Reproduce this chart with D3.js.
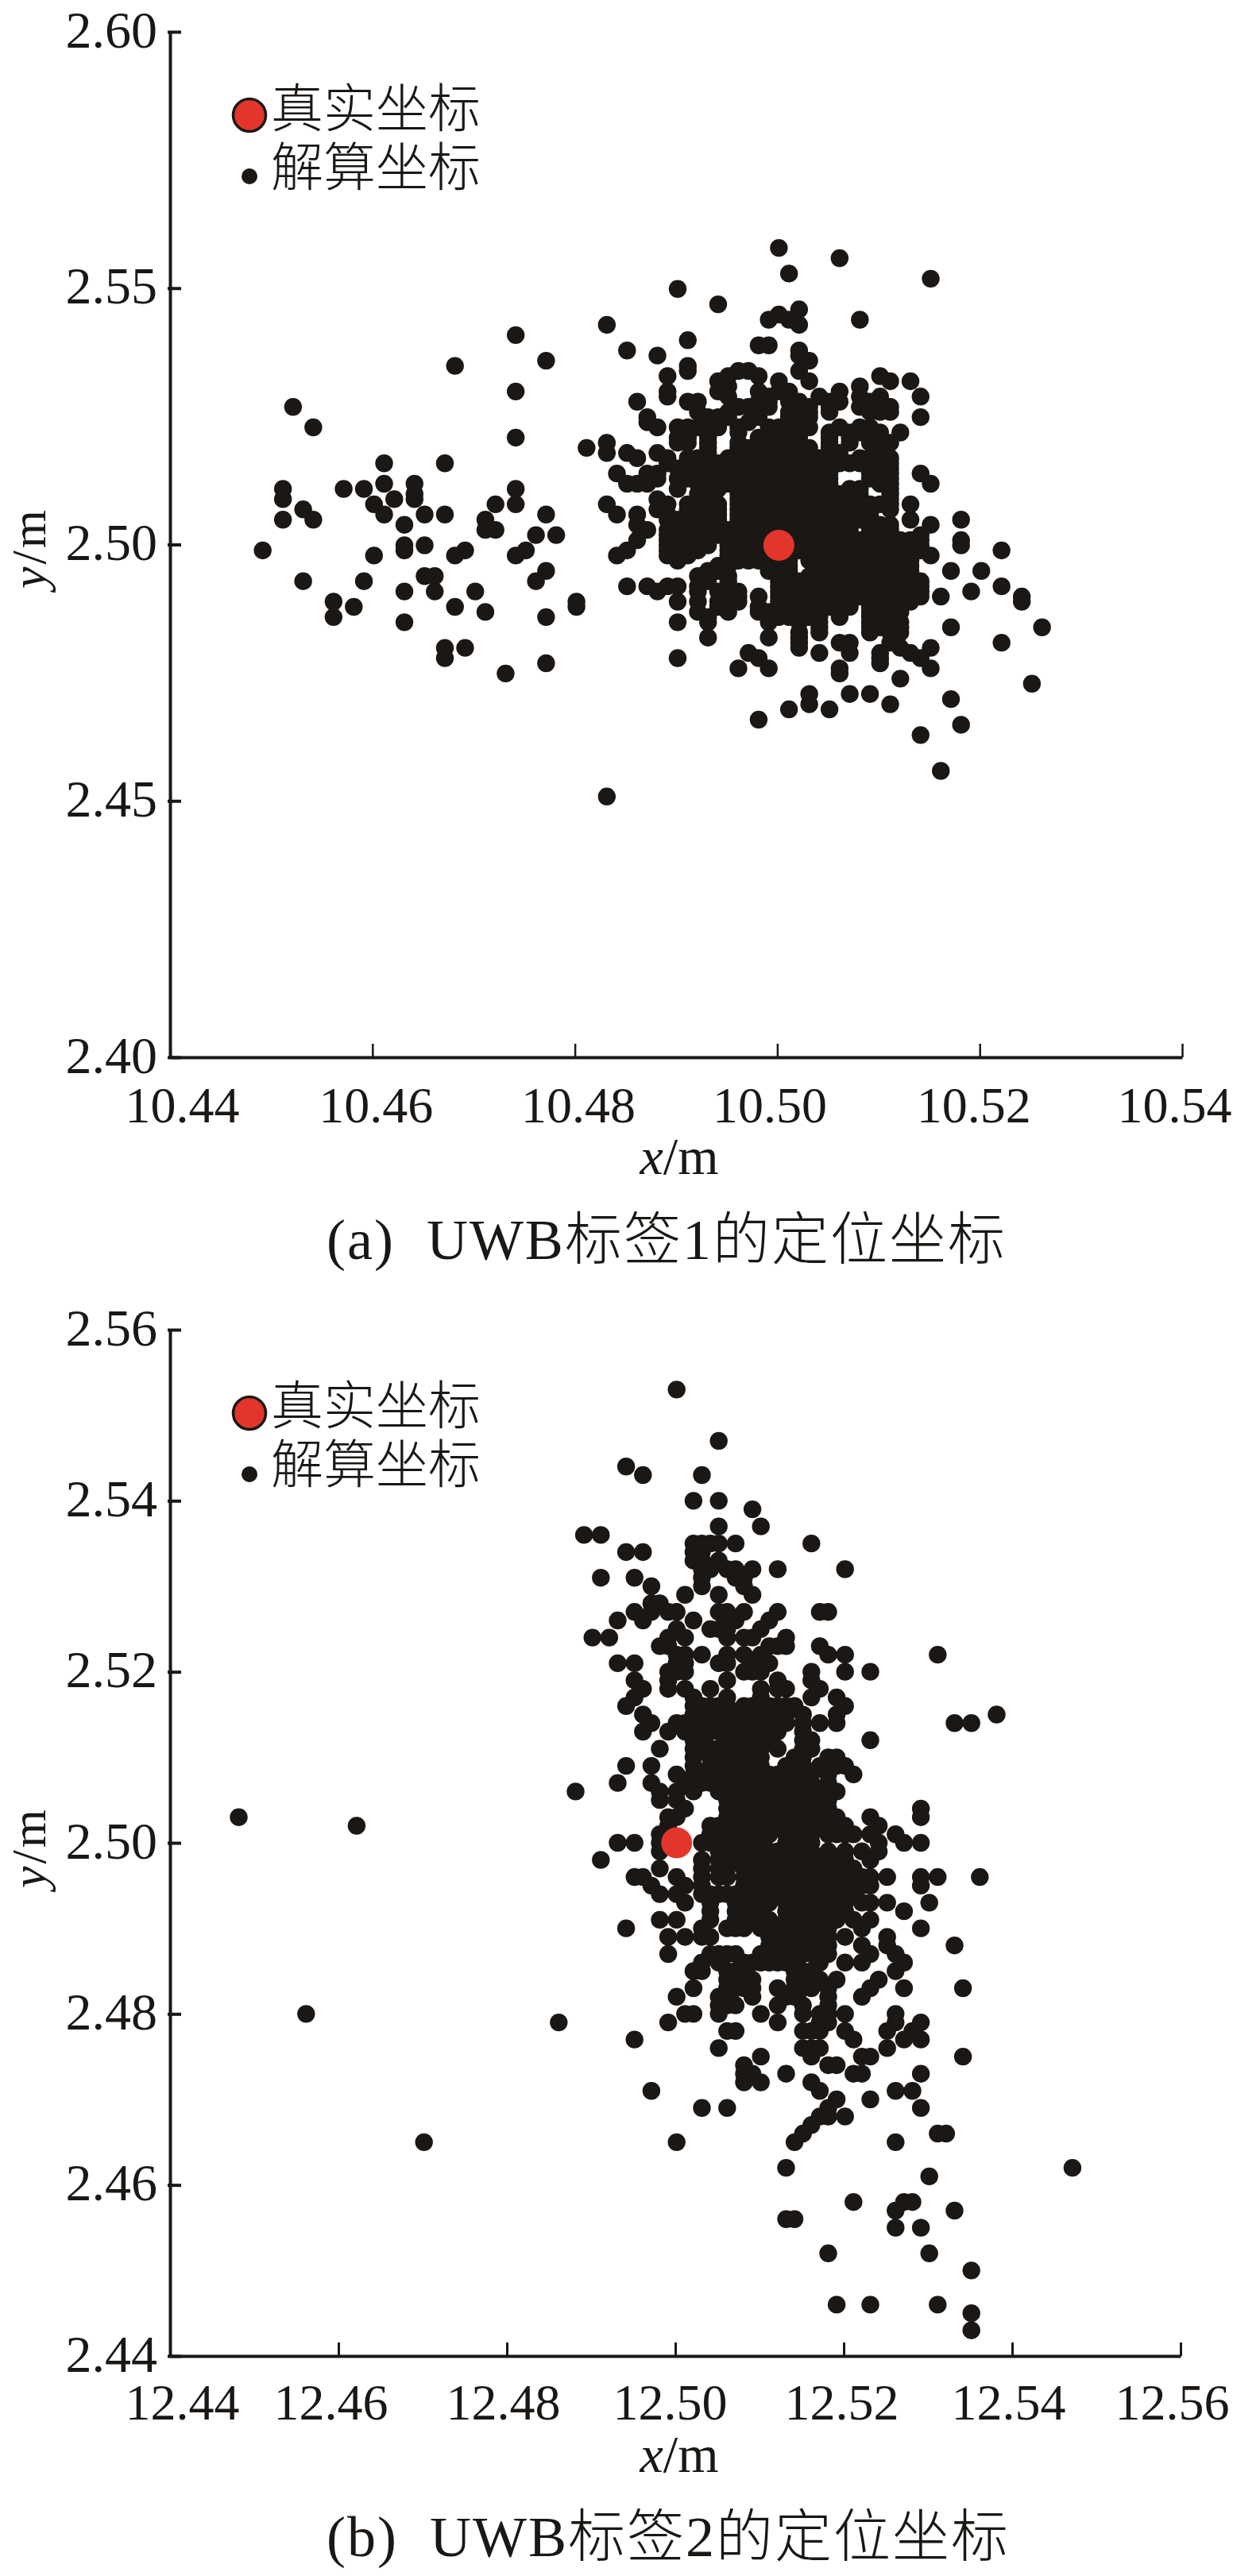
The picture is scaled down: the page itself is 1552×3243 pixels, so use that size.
<!DOCTYPE html>
<html><head><meta charset="utf-8">
<script src="https://cdn.jsdelivr.net/npm/d3@7"></script>
<style>
html,body{margin:0;padding:0;background:#fff}
svg{display:block}
text{fill:#1a1714;font-family:"Liberation Serif","Noto Sans CJK SC",serif}
</style></head><body>
<svg id="c" width="1552" height="3243"></svg>
<script>
// Solved coordinates: rows of [y error in mm, [x errors in mm]] around the true tag position
const tag1True = [10.50, 2.50];
const tag1Rows = [
[58,[0]],[56,[6]],[53,[1]],[52,[15]],[50,[-10]],[47,[-6]],[46,[2]],[45,[0]],[44,[-1,1,8]],[43,[-17,2]],[41,[-26]],[40,[-9]],[39,[-2,-1]],[38,[-15,2]],[37,[-12,2]],[36,[3,-23]],[35,[-9,-32]],[34,[-9,-4,-3,2]],[33,[-11,-5,-2,10]],[32,[-6,0,3,11,13]],[31,[-5,8]],[30,[-26,-11,-6,-2,0,1,6]],[29,[-11,-5,-1,1,4,8,10,14]],
[28,[-14,-9,-8,-2,-1,1,2,5,6,9,10]],[27,[-48,-4,-3,-1,2,3,5,8,11]],[26,[-8,-5,-2,1,3,5,9,10,11]],[25,[-13,-7,-6,-5,-2,1,3,14]],[24,[-13,-3,2]],[23,[-46,-12,-10,-9,-8,-7,-6,-4,-1,0,1,3,6,8,9]],
[22,[-7,-4,-1,0,1,2,5,7,8,10,12]],[21,[-26,-10,-9,-7,-2,-1,0,1,2,5,7,10]],[20,[-17,-10,-9,-7,-4,-2,-1,0,1,2,5,7,9,11]],[19,[-19,-7,-4,-3,1,2,3,5]],[18,[-17,-15,-12,-7,-4,-3,-2,-1,0,1,2,3,5,6,10]],
[17,[-14,-11,-9,-8,-7,-5,-4,-3,-1,1,2,4,5,6,8,9,10,11]],[16,[-39,-33,-11,-8,-6,-5,-4,-3,-2,-1,1,2,3,4,5,6,7,8,9,11]],[15,[-10,-9,-8,-7,-5,-4,-3,-2,-1,0,1,2,3,4,5,10,11]],[14,[-16,-13,-12,-9,-8,-5,-4,-3,-2,-1,1,2,3,4,5,9,10,11,14]],
[13,[-12,-10,-9,-7,-6,-4,-3,-2,-1,1,2,3,4,5,9,10,11]],[12,[-39,-36,-15,-14,-13,-8,-7,-6,-5,-4,-3,-2,-1,0,1,2,3,4,5,10,11,15]],[11,[-49,-43,-41,-26,-10,-7,-6,-4,-3,-2,-1,0,1,2,3,4,5,7,8,11]],[10,[-36,-8,-7,-4,-3,-2,-1,0,1,2,3,4,5,6,7,8,11]],
[9,[-49,-38,-36,-12,-7,-4,-3,-2,-1,0,1,2,3,4,5,6,7,11]],[8,[-40,-28,-26,-17,-11,-9,-8,-6,-4,-3,-2,0,1,2,3,4,5,6,7,8,9,10,11,13]],[7,[-47,-12,-9,-8,-7,-6,-4,-3,-2,-1,0,1,2,3,4,5,6,7,8,11]],[6,[-39,-35,-33,-23,-16,-14,-11,-7,-6,-4,-3,-2,-1,0,1,3,4,5,6,7,8,9]],
[5,[-49,-46,-29,-11,-10,-9,-6,-4,-3,-2,-1,0,1,2,3,4,5,6,7,8,9,13,18]],[4,[-37,-14,-10,-8,-7,-6,-4,-3,-2,-1,0,1,2,3,4,5,6,7,9,10,11,15]],[3,[-29,-28,-13,-11,-10,-9,-8,-7,-6,-5,-4,-3,-2,-1,0,1,2,3,4,5,6,7,9,10,11]],
[2,[-24,-22,-11,-10,-9,-8,-7,-6,-5,-4,-3,-2,-1,0,1,2,3,4,5,6,7,10,11,14]],[1,[-14,-11,-10,-9,-8,-7,-5,-4,-3,-2,-1,0,2,3,4,5,6,8,9,10,11,12,13,14,18]],[0,[-37,-35,-11,-10,-9,-8,-7,-5,-4,-3,-2,-1,0,3,4,5,6,7,8,9,10,11,12,13,14,18]],
[-1,[-51,-37,-31,-25,-15,-11,-8,-5,-4,-3,-2,-1,1,2,3,4,5,6,7,8,9,10,11,12,13,14,22]],[-2,[-40,-32,-26,-16,-11,-9,-5,-4,-3,-2,-1,0,3,5,6,7,8,9,10,11,12,13,15]],[-3,[-10,-4,-3,-2,1,3,4,5,6,7,8,9,10,11,12,13]],[-4,[-6,-5,-1,0,1,4,5,7,8,9,10,11,12,13]],
[-5,[-23,-7,-6,-1,1,4,6,7,8,9,10,11,12,13,17,20]],[-6,[-35,-34,-8,-7,-5,0,1,3,5,6,7,8,9,10,11,12,13]],[-7,[-47,-41,-24,-7,-5,0,1,2,3,4,5,6,7,8,9,10,11,12,14]],[-8,[-15,-13,-11,-10,-8,-5,0,1,2,4,5,6,7,8,9,12,14,22]],
[-9,[-37,-34,-30,-12,-8,-6,-5,-4,0,1,2,3,4,5,6,7,8,9,10,13,14,19]],[-10,[-4,-2,0,1,2,3,4,5,6,8,9,10,11,13,14,16,24]],[-11,[-44,-20,-10,-8,-6,-5,-4,0,1,2,3,5,6,9,10,11,12,13,24]],[-12,[-42,-32,-20,-6,-2,0,1,2,3,4,5,7,9,10,11,12]],
[-13,[-29,-8,-5,-2,-1,0,1,2,3,4,6,9,10,11,12]],[-14,[-44,-23,-7,-1,0,1,3,4,6,9,10,11]],[-15,[-37,-10,-7,-1,2,4,9,10,11,12]],[-16,[4,9,10,11,12,17,26]],[-17,[2,4,9,11,12]],[-18,[-7,-1,2]],[-19,[2,6,7,11,22]],[-20,[-33,-31,2,12,15]],
[-21,[-3,4,7,10,13]],[-22,[-33,-10,-2,10,14]],[-23,[-23,10]],[-24,[-4,-1,6,15]],[-25,[-27,6]],[-26,[12]],[-27,[25]],[-29,[3,7,9]],[-30,[17]],[-31,[3,11]],[-32,[1,5]],[-34,[-2]],[-35,[18]],[-37,[14]],[-44,[16]],[-49,[-17]]
];
const tag2True = [12.50, 2.50];
const tag2Rows = [
[53,[0]],[47,[5]],[44,[-6]],[43,[-4,3]],[40,[2,5]],[39,[9]],[37,[5,10]],[36,[-11,-9]],[35,[2,3,4,5,7,16]],[34,[-6,-4,2,3]],[33,[2,3,5]],[32,[3,4,6,7,9,12,20]],[31,[-9,-5,3,7,8]],[30,[-3,3,8]],[29,[1,5,9]],[28,[-3,-2]],
[27,[-5,-3,-1,0,5,6,8,12,17,18]],[26,[-7,-4,2,6,7,11]],[25,[0,4,5,6,10]],[24,[-10,-8,-1,1,6,8,9,13]],[23,[-2,-1,11,12,13,17]],[22,[0,1,3,6,8,10,18,20,31]],[21,[-7,-5,0,1,5,6,9,10,11]],[20,[-1,0,1,8,9,10,16,20,23]],[19,[-5,-1,6,12,16]],[18,[-4,-1,1,4,10,12,13,17]],[17,[-5,2,6,10,16,19]],
[16,[-6,2,3,4,5,6,8,9,10,11,12,13,14,20]],[15,[-4,2,3,5,7,8,9,10,11,12,13,15,19,38]],[14,[-3,0,1,2,3,4,5,6,8,9,10,11,12,13,15,17,19,33,35]],[13,[-4,-1,1,2,3,4,5,6,7,8,9,10,11,12,15]],[12,[2,3,6,7,8,9,10,11,15,16,23]],[11,[-2,2,3,4,5,6,7,8,9,10,12,15,16]],
[10,[2,4,5,6,7,8,9,10,14,15,18,19]],[9,[-6,-3,2,4,5,6,7,8,9,10,13,14,15,17,18,19,20]],[8,[0,2,3,4,5,6,7,8,9,10,11,12,13,14,15,16,18,21]],[7,[-7,-3,1,3,4,5,6,7,8,9,10,11,12,13,15,16,18]],[6,[-12,-2,0,2,5,6,7,8,9,10,11,12,13,14,16,17,19]],[5,[-2,0,6,7,8,9,10,11,12,13,14,15,16,17,18]],[4,[1,6,7,8,9,10,11,12,13,14,16,17,18,29]],
[3,[-52,-1,0,6,7,8,9,10,11,12,13,14,15,16,18,19,23,29]],[2,[-38,-1,4,5,6,7,8,9,10,11,12,13,14,15,16,17,19,20,24]],[1,[-2,4,5,6,7,8,9,10,11,13,14,15,16,18,19,20,21,23,26]],[0,[-7,-5,-2,3,4,5,6,7,8,9,10,13,14,15,16,24,27,29]],
[-1,[-2,5,7,8,9,10,11,12,13,14,15,16,18,20,22,24]],[-2,[-9,3,5,6,7,8,9,10,11,12,13,14,15,17,18,19,20,23]],[-3,[-2,3,5,6,8,9,10,11,12,13,14,15,16,17,18,19,20,21]],[-4,[-5,-4,0,3,5,6,8,9,10,11,12,13,14,16,18,19,20,21,22,23,25,29,31,36]],[-5,[-3,1,3,8,9,10,11,12,13,14,15,16,17,18,19,20,21,22,23,29]],
[-6,[-2,0,3,4,5,6,7,8,9,10,11,12,13,14,15,16,17,18,19,20,21]],[-7,[1,4,7,8,9,10,11,13,14,15,16,17,18,19,20,22,23,25,30]],[-8,[4,7,8,9,10,13,14,15,16,17,18,19,20,27]],[-9,[-2,0,4,7,8,9,10,11,13,14,15,16,17,18,19,21,23]],[-10,[-6,3,6,7,8,10,11,12,13,14,15,16,17,18,22,29]],
[-11,[-1,1,3,4,11,12,13,14,15,16,17,18,20,25]],[-12,[11,12,13,14,15,16,17,18,22,25,33]],[-13,[-1,4,5,6,7,10,11,12,13,14,15,16,18,23,26]],[-14,[3,5,8,9,10,11,12,13,14,17,20,22,27]],[-15,[2,3,6,7,8,14,15,16,26]],[-16,[6,7,8,9,14,15,16,17,19,24]],[-17,[2,6,7,8,9,12,14,15,16,18,23,27,34]],
[-18,[0,5,6,9,13,14,18,22]],[-19,[5,6,7,12,15,18]],[-20,[-44,1,2,5,10,15,17,18,20,26]],[-21,[-14,-1,12,17,18,26,29]],[-22,[6,7,15,16,17,20,25,28]],[-23,[-5,21,27,29]],[-24,[5,15,16,17,25]],[-25,[10,16,22,23,34]],[-26,[8,18,19]],[-27,[8,9,13,21,22,29]],[-28,[8,10,16]],[-29,[-3,17,26,28]],[-30,[19,23]],[-31,[3,6,18,29]],[-32,[17,18,20]],[-33,[16]],[-34,[15,31,32]],[-35,[-30,0,14,26]],[-38,[13,47]],[-39,[30]],[-42,[21,27,28]],[-43,[26,33]],[-44,[13,14]],[-45,[26,29]],[-48,[18,30]],[-50,[35]],[-54,[19,23,31]],[-55,[35]],[-57,[35]]
];
const tag1XTicks = [10.44,10.46,10.48,10.50,10.52,10.54];
const tag1YTicks = [2.40,2.45,2.50,2.55,2.60];
const tag2XTicks = [12.44,12.46,12.48,12.50,12.52,12.54,12.56];
const tag2YTicks = [2.44,2.46,2.48,2.50,2.52,2.54,2.56];
const tag1XLabelShift = [15,4,4,-10,-8,-10];
const tag2XLabelShift = [15,-10,-5,-7,-3,-5,-11];
const legendLabels = ["真实坐标","解算坐标"];
const captions = ["(a)\u00A0\u00A0UWB标签1的定位坐标","(b)\u00A0\u00A0UWB标签2的定位坐标"];

const INK="#1a1714", RED="#e4352c";
const svg=d3.select("#c");

function expand(rows,t){
  return rows.flatMap(([dy,dxs])=>dxs.map(dx=>({x:t[0]+dx/1000,y:t[1]+dy/1000})));
}
function panel(o){
  const x=d3.scaleLinear().domain(o.xd).range([214,o.xr]);
  const y=d3.scaleLinear().domain(o.yd).range([o.yb,o.yt]);
  const g=svg.append("g");
  const ax=g.append("g").attr("transform",`translate(0,${o.yb})`)
    .call(d3.axisBottom(x).tickValues(o.xt).tickFormat(d3.format(".2f")).tickSizeInner(-17).tickSizeOuter(0).tickPadding(0));
  ax.select(".domain").attr("stroke",INK).attr("stroke-width",4);
  ax.selectAll(".tick line").attr("stroke",INK).attr("stroke-width",o.xtw);
  ax.selectAll(".tick text").attr("fill",INK).attr("font-size",64).attr("font-family",'"Liberation Serif"')
    .attr("dy",0).attr("y",o.xl-o.yb).attr("x",(d,i)=>o.shift[i]);
  const ay=g.append("g").attr("transform","translate(214,0)")
    .call(d3.axisLeft(y).tickValues(o.yt_).tickFormat(d3.format(".2f")).tickSizeInner(-14).tickSizeOuter(0).tickPadding(16));
  ay.select(".domain").attr("stroke",INK).attr("stroke-width",4);
  ay.selectAll(".tick line").attr("stroke",INK).attr("stroke-width",4).attr("x1",-3);
  ay.selectAll(".tick text").attr("fill",INK).attr("font-size",66).attr("font-family",'"Liberation Serif"').attr("dy",19);

  const dots=g.append("g").attr("transform",`translate(${o.off[0]},${o.off[1]})`);
  dots.selectAll("circle.p").data(expand(o.rows,o.truth)).join("circle").attr("class","p")
    .attr("cx",d=>x(d.x)).attr("cy",d=>y(d.y)).attr("r",11.2).attr("fill",INK);
  dots.append("circle").attr("cx",x(o.truth[0])).attr("cy",y(o.truth[1])).attr("r",19.5)
    .attr("fill",RED);

  // legend
  g.append("circle").attr("cx",314).attr("cy",o.leg[0]).attr("r",20.5).attr("fill",RED).attr("stroke",INK).attr("stroke-width",3.5);
  g.append("circle").attr("cx",314).attr("cy",o.leg[1]).attr("r",10).attr("fill",INK);
  legendLabels.forEach((s,i)=>g.append("text").attr("x",341).attr("y",o.leg[2+i]).attr("font-size",66).attr("font-family",'"Noto Sans CJK SC"').attr("font-weight",300).text(s));

  // axis titles
  const xt=g.append("text").attr("x",855).attr("y",o.xTitle).attr("text-anchor","middle").attr("font-size",66);
  xt.append("tspan").attr("font-style","italic").text("x");xt.append("tspan").text("/m");
  const yt=g.append("text").attr("transform",`translate(57,${o.yTitle}) rotate(-90)`).attr("text-anchor","middle").attr("font-size",62).attr("letter-spacing",3);
  yt.append("tspan").attr("font-style","italic").text("y");yt.append("tspan").text("/m");
  // caption
  g.append("text").attr("x",411).attr("y",o.capY).attr("font-size",72).attr("letter-spacing",2).attr("font-weight",300).text(o.cap);
}
panel({xd:[10.44,10.54],xr:1488,yd:[2.40,2.60],yb:1331,yt:40,xt:tag1XTicks,yt_:tag1YTicks,shift:tag1XLabelShift,xl:1413,xtw:2.5,
  rows:tag1Rows,truth:tag1True,off:[2,1],leg:[145,222,160,234],xTitle:1478,yTitle:690,capY:1585,cap:captions[0]});
panel({xd:[12.44,12.56],xr:1486,yd:[2.44,2.56],yb:2966,yt:1674,xt:tag2XTicks,yt_:tag2YTicks,shift:tag2XLabelShift,xl:3046,xtw:3,
  rows:tag2Rows,truth:tag2True,off:[1.7,0],leg:[1779,1856,1793,1867],xTitle:3112,yTitle:2326,capY:3218,cap:captions[1]});
</script>
</body></html>
